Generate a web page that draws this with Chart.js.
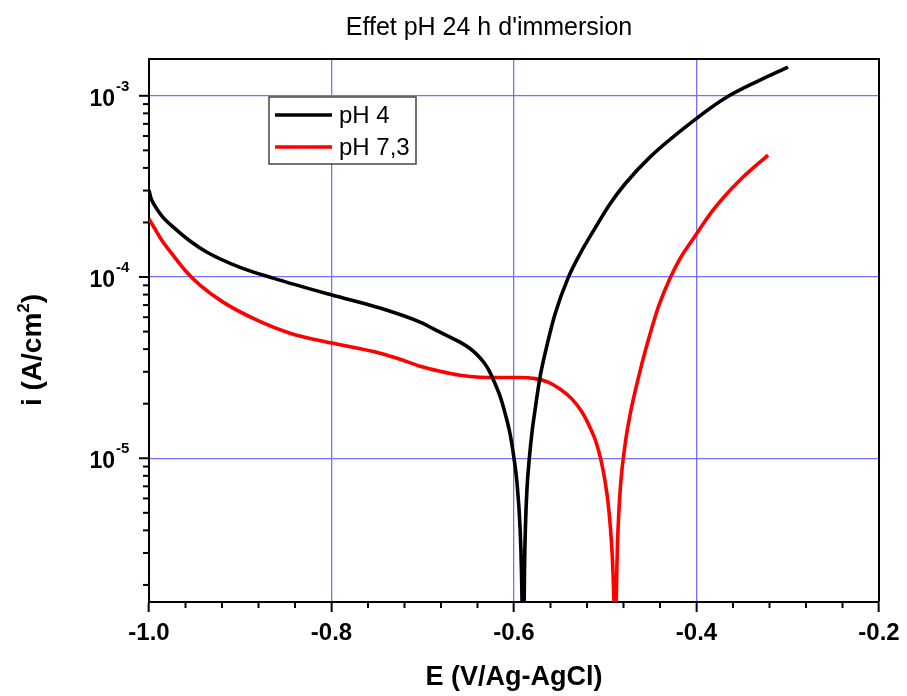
<!DOCTYPE html>
<html>
<head>
<meta charset="utf-8">
<script src="https://cdn.jsdelivr.net/npm/chart.js@4.4.1/dist/chart.umd.min.js"></script>
<style>
  body { margin: 0; background: #fff; }
  #wrap { width: 907px; height: 696px; }
</style>
</head>
<body>
<div id="wrap"><canvas id="chart" width="907" height="696"></canvas></div>
<script>
// Polarisation curves, 24 h immersion
const titleText = "Effet pH 24 h d'immersion";
const xTitle = 'E (V/Ag-AgCl)';
const yTitleMain = 'i (A/cm';
const yTitleSup = '2';
const yTitleEnd = ')';
const seriesLabels = ['pH 4', 'pH 7,3'];
const xTicks = [-1.0, -0.8, -0.6, -0.4, -0.2];
const yMajor = [1e-5, 1e-4, 1e-3];

// pH 4 (black)
const ph4E = [-1.000, -0.9978, -0.9934, -0.9858, -0.9737, -0.9551, -0.9364, -0.9003, -0.8641, -0.7995,
  -0.7469, -0.7030, -0.6811, -0.6592, -0.6482, -0.6406, -0.6340, -0.6285, -0.6219, -0.6153,
  -0.6099, -0.6044, -0.6000, -0.5967, -0.5934, -0.5918, -0.5907, -0.5901, -0.5890, -0.5885,
  -0.5874, -0.5858, -0.5832, -0.5803, -0.5770, -0.5715, -0.5638, -0.5551, -0.5408, -0.5277,
  -0.5112, -0.4948, -0.4784, -0.4510, -0.3995, -0.3666, -0.3304, -0.2997];
const ph4I = [3.01e-4, 2.72e-4, 2.46e-4, 2.17e-4, 1.89e-4, 1.58e-4, 1.37e-4, 1.13e-4, 9.86e-5, 7.95e-5,
  6.74e-5, 5.64e-5, 4.96e-5, 4.37e-5, 4.03e-5, 3.73e-5, 3.43e-5, 3.12e-5, 2.66e-5, 2.20e-5,
  1.78e-5, 1.37e-5, 1.0e-5, 7.31e-6, 4.17e-6, 2.38e-6, 9.8e-7, 3e-7, 1.40e-6, 2.44e-6,
  4.28e-6, 6.75e-6, 1.0e-5, 1.39e-5, 1.84e-5, 2.80e-5, 4.21e-5, 6.24e-5, 9.86e-5, 1.34e-4,
  1.86e-4, 2.53e-4, 3.26e-4, 4.59e-4, 7.53e-4, 9.84e-4, 1.22e-3, 1.44e-3];

// pH 7,3 (red)
const ph73E = [-1.000, -0.9934, -0.9847, -0.9737, -0.9606, -0.9441, -0.9189, -0.8816, -0.8455, -0.7995,
  -0.7469, -0.7249, -0.7030, -0.6811, -0.6592, -0.6373, -0.6153, -0.5934, -0.5770, -0.5627,
  -0.5496, -0.5364, -0.5255, -0.5167, -0.5101, -0.5047, -0.5003, -0.4970, -0.4943, -0.4923,
  -0.4910, -0.4896, -0.4888, -0.4881, -0.4871, -0.4860, -0.4838, -0.4816, -0.4802, -0.4773,
  -0.4729, -0.4674, -0.4597, -0.4510, -0.4411, -0.4290, -0.4170, -0.4038, -0.3819, -0.3523, -0.3216];
const ph73I = [2.09e-4, 1.84e-4, 1.56e-4, 1.32e-4, 1.09e-4, 9.02e-5, 7.27e-5, 5.78e-5, 4.90e-5, 4.32e-5,
  3.80e-5, 3.52e-5, 3.22e-5, 3.02e-5, 2.87e-5, 2.80e-5, 2.79e-5, 2.79e-5, 2.75e-5, 2.63e-5,
  2.41e-5, 2.12e-5, 1.80e-5, 1.48e-5, 1.23e-5, 9.76e-6, 7.52e-6, 5.73e-6, 4.13e-6, 2.88e-6,
  1.97e-6, 9.3e-7, 3e-7, 1.28e-6, 2.67e-6, 4.04e-6, 6.50e-6, 8.74e-6, 1.0e-5, 1.29e-5,
  1.73e-5, 2.32e-5, 3.35e-5, 4.84e-5, 7.00e-5, 9.86e-5, 1.29e-4, 1.62e-4, 2.34e-4, 3.43e-4, 4.71e-4];

const yMin = 1.61e-6;
const yMax = 1.596e-3;
const gridBlue = '#7272ff';
const fontFam = 'Arial, "Liberation Sans", sans-serif';

function toPoints(xs, ys) {
  return xs.map((x, i) => ({ x: x, y: ys[i] }));
}

function isDecade(v) {
  const l = Math.log10(v);
  return Math.abs(l - Math.round(l)) < 1e-6;
}

// title, frame, minor ticks, y labels with exponents, y title, legend
const extras = {
  id: 'extras',
  afterDraw(chart) {
    const c = chart.ctx;
    const a = chart.chartArea;
    const xs = chart.scales.x;
    const ys = chart.scales.y;
    c.save();

    // title
    c.fillStyle = '#000';
    c.font = '25px ' + fontFam;
    c.textAlign = 'center';
    c.textBaseline = 'middle';
    c.fillText(titleText, 489, 28);

    c.strokeStyle = '#000';
    c.lineWidth = 2;
    c.beginPath();
    c.moveTo(a.left, a.top);
    c.lineTo(a.right, a.top);
    c.lineTo(a.right, a.bottom);
    c.stroke();

    // x minor ticks
    for (let k = 1; k < 20; k++) {
      if (k % 5 === 0) continue;
      const px = xs.getPixelForValue(-1 + k * 0.04);
      c.beginPath();
      c.moveTo(px, a.bottom);
      c.lineTo(px, a.bottom + 6);
      c.stroke();
    }

    // y ticks
    for (let e = -6; e <= -3; e++) {
      for (let m = 1; m <= 9; m++) {
        const v = m * Math.pow(10, e);
        if (v < yMin || v > yMax) continue;
        const py = ys.getPixelForValue(v);
        c.beginPath();
        c.moveTo(a.left, py);
        c.lineTo(a.left - (m === 1 ? 10 : 6), py);
        c.stroke();
      }
    }

    // y labels 10^n
    yMajor.forEach(v => {
      const py = ys.getPixelForValue(v);
      const ex = Math.round(Math.log10(v));
      c.font = 'bold 23px ' + fontFam;
      c.textAlign = 'right';
      c.textBaseline = 'alphabetic';
      c.fillText('10', 115, py + 10);
      c.font = 'bold 15px ' + fontFam;
      c.textAlign = 'left';
      c.fillText(String(ex), 116, py - 5);
    });

    // y title with superscript
    c.save();
    c.translate(31, 350);
    c.rotate(-Math.PI / 2);
    c.font = 'bold 28px ' + fontFam;
    const w1 = c.measureText(yTitleMain).width;
    const w3 = c.measureText(yTitleEnd).width;
    c.font = 'bold 17px ' + fontFam;
    const w2 = c.measureText(yTitleSup).width;
    let x0 = -(w1 + w2 + w3) / 2;
    c.textAlign = 'left';
    c.textBaseline = 'alphabetic';
    c.font = 'bold 28px ' + fontFam;
    c.fillText(yTitleMain, x0, 10);
    c.font = 'bold 17px ' + fontFam;
    c.fillText(yTitleSup, x0 + w1, -2);
    c.font = 'bold 28px ' + fontFam;
    c.fillText(yTitleEnd, x0 + w1 + w2, 10);
    c.restore();

    // legend
    const bx = 269, by = 97, bw = 147, bh = 67;
    c.fillStyle = '#fff';
    c.fillRect(bx, by, bw, bh);
    c.strokeStyle = '#444';
    c.lineWidth = 1.5;
    c.strokeRect(bx, by, bw, bh);
    chart.data.datasets.forEach((ds, i) => {
      const ly = 115 + i * 32;
      c.strokeStyle = ds.borderColor;
      c.lineWidth = 3.6;
      c.beginPath();
      c.moveTo(275, ly);
      c.lineTo(332, ly);
      c.stroke();
      c.fillStyle = '#000';
      c.font = '24px ' + fontFam;
      c.textAlign = 'left';
      c.textBaseline = 'middle';
      c.fillText(ds.label, 339, ly + 1);
    });
    c.restore();
  }
};

new Chart(document.getElementById('chart'), {
  type: 'line',
  data: {
    datasets: [
      {
        label: seriesLabels[0],
        data: toPoints(ph4E, ph4I),
        borderColor: '#000000',
        borderWidth: 3.6,
        pointRadius: 0,
        cubicInterpolationMode: 'monotone',
        clip: 0
      },
      {
        label: seriesLabels[1],
        data: toPoints(ph73E, ph73I),
        borderColor: '#ff0000',
        borderWidth: 3.6,
        pointRadius: 0,
        cubicInterpolationMode: 'monotone',
        clip: 0
      }
    ]
  },
  options: {
    responsive: false,
    animation: false,
    layout: { padding: { left: 0, right: 28, top: 59, bottom: 0 } },
    plugins: {
      legend: { display: false },
      tooltip: { enabled: false },
      title: { display: false }
    },
    scales: {
      x: {
        type: 'linear',
        min: -1.0,
        max: -0.2,
        afterBuildTicks: s => { s.ticks = xTicks.map(v => ({ value: v })); },
        afterFit: s => { s.height = 94; },
        ticks: {
          callback: v => v.toFixed(1),
          color: '#000',
          padding: 7,
          maxRotation: 0,
          font: { family: fontFam, size: 24, weight: 'bold' }
        },
        grid: {
          color: ctx => (ctx.tick && (ctx.tick.value <= -0.99 || ctx.tick.value >= -0.21)) ? 'rgba(0,0,0,0)' : gridBlue,
          lineWidth: 1.3,
          drawTicks: true,
          tickLength: 10,
          tickColor: '#000',
          tickWidth: 2
        },
        border: { color: '#000', width: 2 },
        title: {
          display: true,
          text: xTitle,
          color: '#000',
          padding: { top: 0, bottom: 2 },
          font: { family: fontFam, size: 27, weight: 'bold' }
        }
      },
      y: {
        type: 'logarithmic',
        min: yMin,
        max: yMax,
        afterFit: s => { s.width = 149; },
        ticks: { display: false },
        grid: {
          color: ctx => (ctx.tick && isDecade(ctx.tick.value)) ? gridBlue : 'rgba(0,0,0,0)',
          lineWidth: 1.3,
          drawTicks: false
        },
        border: { color: '#000', width: 2 },
        title: { display: false }
      }
    }
  },
  plugins: [extras]
});
</script>
</body>
</html>
